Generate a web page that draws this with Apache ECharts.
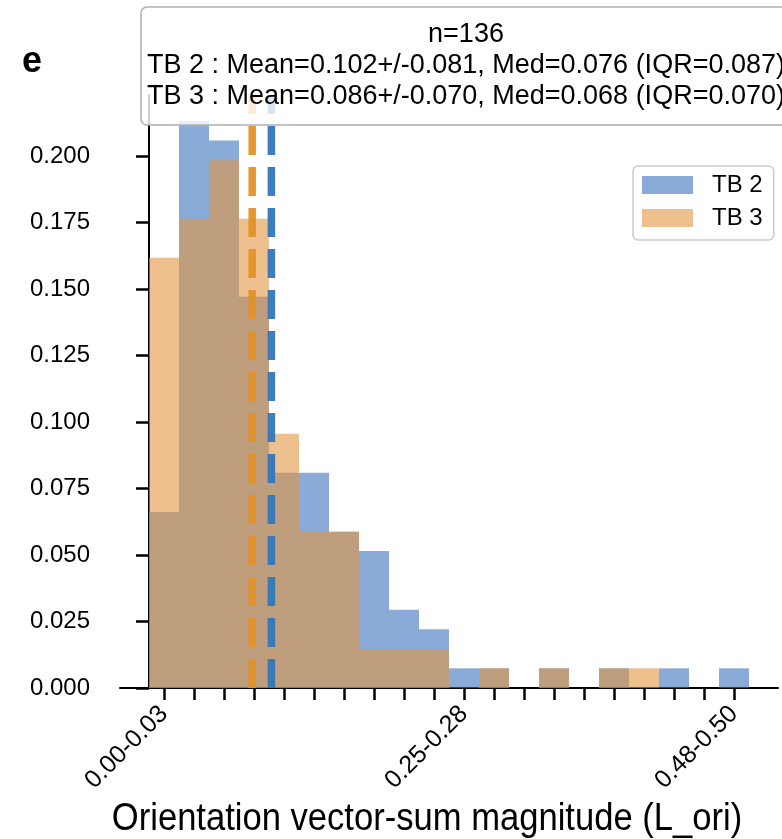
<!DOCTYPE html>
<html>
<head>
<meta charset="utf-8">
<script src="https://cdn.jsdelivr.net/npm/echarts@6/dist/echarts.min.js"></script>
<style>
html,body{margin:0;padding:0;background:#fff;}
#chart{width:782px;height:839px;}
</style>
</head>
<body>
<div id="chart"></div>
<script>
// ---- data ----
const binLabels = ["0.00-0.03","0.03-0.05","0.05-0.08","0.08-0.10","0.10-0.13","0.13-0.15","0.15-0.18","0.18-0.20","0.20-0.23","0.23-0.25","0.25-0.28","0.28-0.30","0.30-0.33","0.33-0.35","0.35-0.38","0.38-0.40","0.40-0.43","0.43-0.45","0.45-0.48","0.48-0.50"];
const shownLabelIdx = [0, 10, 19];
const binWidth = 0.025;
const tb2 = [0.0662,0.2132,0.2059,0.1471,0.0809,0.0809,0.0588,0.0515,0.0294,0.0221,0.0074,0.0074,0,0.0074,0,0.0074,0,0.0074,0,0.0074];
const tb3 = [0.1618,0.1765,0.1985,0.1765,0.0956,0.0588,0.0588,0.0147,0.0147,0.0147,0,0.0074,0,0.0074,0,0.0074,0.0074,0,0,0];
const seriesNames = ["TB 2", "TB 3"];
const meanValues = [0.102, 0.086];
const yTicks = [0, 0.025, 0.05, 0.075, 0.1, 0.125, 0.15, 0.175, 0.2];
const yMax = 0.223;
const statsLines = ["n=136",
  "TB 2 : Mean=0.102+/-0.081, Med=0.076 (IQR=0.087)",
  "TB 3 : Mean=0.086+/-0.070, Med=0.068 (IQR=0.070)"];
const panelLetter = "e";
const xTitle = "Orientation vector-sum magnitude (L_ori)";

// ---- styles ----
const FONT = '"Liberation Sans", Arial, Helvetica, sans-serif';
const barColors = ['rgba(60,115,190,0.6)', 'rgba(225,150,65,0.6)'];
const lineColors = ['rgba(52,118,188,0.95)', 'rgba(226,146,40,0.95)'];

const centers = binLabels.map((_, i) => (i + 0.5) * binWidth);
const idxOf = v => Math.round(v / binWidth - 0.5);

const meanSeries = meanValues.map((m, k) => ({
  name: seriesNames[k] + ' mean', type: 'line', z: 5,
  data: [[m, 0], [m, yMax]],
  symbol: 'none', silent: true, legendHoverLink: false,
  lineStyle: {color: lineColors[k], width: 7.5, type: [29, 12], cap: 'butt'},
  emphasis: {disabled: true}
}));

const chart = echarts.init(document.getElementById('chart'), null, {renderer: 'canvas'});
chart.setOption({
  animation: false,
  backgroundColor: '#fff',
  grid: {left: 120, right: 4, top: 95, bottom: 151, containLabel: false},
  xAxis: {
    type: 'value', min: -0.02417, max: 0.52417,
    splitLine: {show: false},
    axisLine: {show: true, onZero: false, lineStyle: {color: '#000', width: 2}},
    axisTick: {show: true, customValues: centers, length: 12, lineStyle: {color: '#000', width: 2.5}},
    axisLabel: {
      customValues: shownLabelIdx.map(i => centers[i]),
      formatter: v => binLabels[idxOf(v)],
      rotate: 45, fontSize: 25, color: '#000', fontFamily: FONT, margin: 22
    }
  },
  yAxis: {
    type: 'value', min: 0, max: yMax,
    splitLine: {show: false},
    axisLine: {show: true, lineStyle: {color: '#000', width: 2}},
    axisTick: {show: true, customValues: yTicks, length: 13, lineStyle: {color: '#000', width: 2.5}},
    axisLabel: {
      customValues: yTicks,
      formatter: v => v.toFixed(3),
      fontSize: 24, color: '#000', fontFamily: FONT, margin: 30
    }
  },
  legend: {
    show: true, orient: 'vertical', left: 633, top: 166,
    data: seriesNames,
    icon: 'rect', itemWidth: 51, itemHeight: 18, itemGap: 9,
    padding: [7, 11, 10, 9],
    backgroundColor: '#fff',
    borderColor: '#cccccc', borderWidth: 1.5, borderRadius: 5,
    textStyle: {fontSize: 24, color: '#000', fontFamily: FONT, padding: [0, 0, 0, 14]}
  },
  series: [
    {
      name: seriesNames[0], type: 'bar', barWidth: 30, barGap: '-100%',
      data: tb2.map((v, i) => [centers[i], v]),
      itemStyle: {color: barColors[0]}, z: 2
    },
    {
      name: seriesNames[1], type: 'bar', barWidth: 30, barGap: '-100%',
      data: tb3.map((v, i) => [centers[i], v]),
      itemStyle: {color: barColors[1]}, z: 3
    }
  ].concat(meanSeries),
  graphic: [
    {type: 'rect', z: 100, shape: {x: 141, y: 7, width: 660, height: 118, r: 6},
     style: {fill: 'rgba(255,255,255,0.8)', stroke: '#b0b0b0', lineWidth: 1.5}},
    {type: 'text', z: 101, x: 466, y: 35, style: {text: statsLines[0], align: 'center', verticalAlign: 'middle', font: '27px ' + FONT, fill: '#000'}},
    {type: 'text', z: 101, x: 466, y: 66, style: {text: statsLines[1], align: 'center', verticalAlign: 'middle', font: '27px ' + FONT, fill: '#000'}},
    {type: 'text', z: 101, x: 466, y: 97, style: {text: statsLines[2], align: 'center', verticalAlign: 'middle', font: '27px ' + FONT, fill: '#000'}},
    {type: 'text', z: 101, x: 32, y: 62, style: {text: panelLetter, align: 'center', verticalAlign: 'middle', font: 'bold 36px ' + FONT, fill: '#000'}},
    {type: 'text', z: 101, x: 427, y: 820, scaleX: 0.91, style: {text: xTitle, x: 0, y: 0, align: 'center', verticalAlign: 'middle', font: '38px ' + FONT, fill: '#000'}}
  ]
});
</script>
</body>
</html>
